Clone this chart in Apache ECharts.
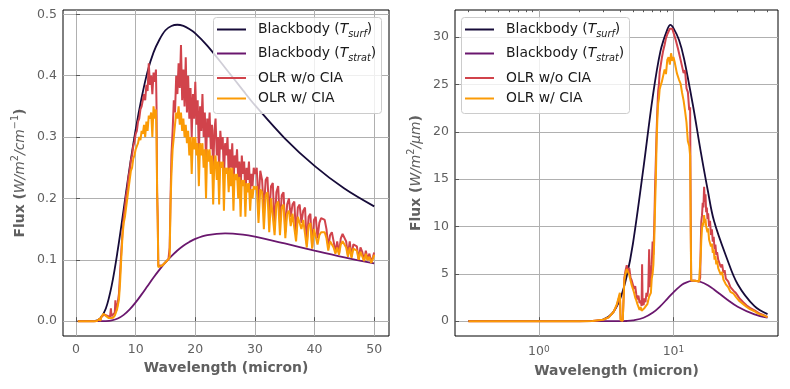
<!DOCTYPE html>
<html><head><meta charset="utf-8">
<script src="https://cdn.jsdelivr.net/npm/echarts@6/dist/echarts.min.js"></script>
<style>html,body{margin:0;padding:0;background:#fff}#c{width:790px;height:389px}</style>
</head><body><div id="c"></div>
<script>
// ---------- Left panel (flux per wavenumber) ----------
const bbWaveL = [0.3,1,2,3,4,5,6,7,8,9,10,11,12,13,14,15,16,17,18,19,20,22,25,28,30,35,40,45,50];
const bbSurfL = [0,0,0,0.0002,0.0036,0.0205,0.059,0.116,0.183,0.251,0.312,0.364,0.407,0.438,0.459,0.474,0.481,0.483,0.481,0.476,0.469,0.449,0.413,0.376,0.352,0.298,0.253,0.216,0.187];
const bbStratL = [0,0,0,0,0,0.0002,0.0013,0.0043,0.0102,0.0191,0.0305,0.0436,0.0574,0.0711,0.084,0.0958,0.106,0.1152,0.123,0.129,0.134,0.140,0.143,0.141,0.1377,0.1266,0.115,0.104,0.094];

const olrWaveL = [
0.3,2,3,3.5,3.8,4.0,4.05,4.25,4.3,4.45,
4.6,4.8,5.0,5.2,5.5,5.7,5.85,5.95,6.2,6.5,
6.6,6.7,6.9,7.0,7.2,7.4,7.6,7.8,8.0,8.2,
8.4,8.6,8.8,9.0,9.2,9.4,9.6,9.8,10.0,10.2,
10.4,10.6,10.8,11.0,11.2,11.4,11.6,11.8,12.0,12.2,
12.4,12.6,12.8,13.0,13.2,13.4,13.5,13.6,13.7,13.8,
14.5,15.0,15.5,15.7,15.85,
16.0,16.2,16.4,16.6,16.8,17.0,17.2,17.4,17.6,17.8,
18.0,18.2,18.4,18.6,18.8,19.0,19.2,19.4,19.6,19.8,
20.0,20.2,20.4,20.6,20.8,21.0,21.2,21.4,21.6,21.8,
22.0,22.2,22.4,22.6,22.8,23.0,23.2,23.4,23.6,23.8,
24.0,24.2,24.4,24.6,24.8,25.0,25.2,25.4,25.6,25.8,
26.0,26.2,26.4,26.6,26.8,27.0,27.2,27.4,27.6,27.8,
28.0,28.2,28.4,28.6,28.8,29.0,29.2,29.4,29.6,29.8,
30.0,30.3,30.6,30.9,31.2,31.5,31.8,32.1,32.4,32.7,
33.0,33.3,33.6,33.9,34.2,34.5,34.8,35.1,35.4,35.7,
36.0,36.3,36.6,36.9,37.2,37.5,37.8,38.1,38.4,38.7,
39.0,39.3,39.6,39.9,40.2,40.5,40.8,41.1,41.4,41.7,
42.0,42.3,42.6,42.9,43.2,43.5,43.8,44.1,44.4,44.7,
45.0,45.3,45.6,45.9,46.2,46.5,46.8,47.1,47.4,47.7,
48.0,48.3,48.6,48.9,49.2,49.5,49.8,50.0];
const olrNoCiaL = [
0,0,0,.0002,.001,.0045,.0003,.0002,.008,.011,
.011,.0105,.011,.009,.008,.007,.021,.008,.0095,.014,
.034,.016,.024,.03,.045,.08,.115,.145,.17,.185,
.205,.215,.235,.245,.262,.27,.285,.292,.305,.31,
.325,.33,.345,.35,.36,.37,.36,.385,.375,.42,
.385,.40,.37,.405,.39,.41,.35,.21,.17,.09,
.091,.096,.101,.12,.20,
.27,.31,.36,.34,.40,.37,.42,.38,.45,.36,
.41,.35,.43,.34,.40,.33,.38,.30,.37,.33,
.39,.32,.36,.27,.35,.31,.37,.30,.34,.26,
.33,.30,.34,.28,.32,.24,.31,.33,.27,.30,
.25,.31,.28,.30,.23,.29,.27,.30,.24,.28,
.25,.29,.22,.27,.25,.28,.23,.26,.21,.27,
.24,.26,.20,.25,.23,.26,.21,.24,.22,.25,
.24,.25,.19,.245,.23,.18,.23,.235,.17,.22,
.225,.15,.21,.22,.16,.205,.21,.145,.19,.20,
.17,.19,.195,.14,.185,.19,.16,.18,.185,.125,
.17,.175,.12,.165,.17,.135,.16,.168,.17,.165,
.15,.12,.14,.145,.13,.112,.13,.11,.135,.142,
.14,.13,.108,.13,.105,.125,.128,.122,.10,.12,
.113,.098,.115,.10,.11,.096,.105,.112];
const olrCiaL = [
0,0,0,.0002,.001,.0045,.0002,.0002,.008,.010,
.012,.0095,.0085,.007,.005,.0045,.005,.0045,.0055,.009,
.011,.011,.02,.022,.035,.065,.105,.14,.16,.17,
.185,.20,.215,.23,.245,.25,.265,.27,.28,.285,
.29,.30,.295,.31,.305,.32,.30,.325,.31,.335,
.33,.34,.30,.35,.33,.345,.30,.21,.16,.088,
.091,.096,.101,.105,.19,
.24,.28,.30,.32,.34,.33,.35,.32,.34,.31,
.33,.30,.32,.29,.31,.27,.30,.24,.30,.28,
.30,.27,.29,.22,.29,.27,.29,.25,.28,.20,
.28,.26,.28,.24,.27,.19,.26,.27,.23,.26,
.19,.26,.25,.26,.18,.25,.24,.25,.21,.25,
.22,.25,.18,.24,.23,.24,.20,.235,.17,.23,
.22,.23,.17,.225,.21,.225,.18,.215,.20,.22,
.215,.22,.16,.215,.21,.15,.205,.21,.145,.20,
.20,.14,.19,.195,.14,.185,.19,.135,.175,.18,
.155,.175,.175,.13,.17,.17,.15,.165,.165,.12,
.155,.16,.118,.15,.15,.125,.14,.145,.147,.145,
.135,.115,.13,.13,.12,.11,.12,.108,.125,.13,
.13,.12,.105,.12,.103,.118,.12,.115,.10,.113,
.11,.098,.11,.099,.105,.095,.102,.108];

// ---------- Right panel (flux per micron, log wavelength) ----------
const bbWaveR = [0.3,1,2,2.5,3,3.5,4,4.5,5,6,7,8,9,9.5,10,11,12,14,16,18,20,25,30,40,50];
const bbSurfR = [0,0,0,0.018,0.175,0.80,2.27,4.77,8.18,16.3,23.6,28.5,30.8,31.3,30.95,29.7,27.7,22.7,17.8,13.8,10.6,6.6,3.9,1.58,0.745];
const bbStratR = [0,0,0,0,0,0,0.004,0.02,0.085,0.36,0.88,1.59,2.36,2.72,3.05,3.60,3.99,4.29,4.14,3.80,3.35,2.29,1.53,0.71,0.364];

const olrWaveR = [
0.3,1,2,2.5,3,3.3,3.6,3.8,4.0,4.05,
4.2,4.28,4.32,4.4,4.5,4.6,4.7,4.8,4.9,5.0,
5.1,5.2,5.3,5.4,5.5,5.6,5.7,5.8,5.85,5.9,
6.0,6.1,6.2,6.3,6.4,6.5,6.6,6.7,6.8,6.9,
7.0,7.1,7.2,7.3,7.4,7.5,7.6,7.7,7.8,7.9,
8.0,8.2,8.4,8.6,8.8,9.0,9.2,9.4,9.6,9.8,
10.0,10.2,10.4,10.6,10.8,11.0,11.3,11.6,11.9,12.2,
12.5,12.8,13.1,13.3,13.45,13.55,14.0,14.5,15.0,15.5,
15.8,15.95,16.1,16.3,16.5,16.7,16.9,17.1,17.3,17.5,
17.7,17.9,18.1,18.4,18.7,19.0,19.3,19.6,19.9,20.2,
20.5,20.8,21.1,21.5,22.0,22.5,23.0,23.5,24.0,24.5,
25.0,25.5,26.0,26.5,27.0,28.0,29.0,30.0,31.0,32.0,
33.0,34.0,35.0,36.0,37.0,38.0,40.0,42.0,44.0,46.0,
48.0,50.0];
const olrNoCiaR = [
0,0,0,.01,.15,.4,1.0,1.7,2.8,.2,
.05,.1,4.6,5.3,5.9,5.3,5.6,4.6,4.3,4.5,
3.4,3.7,2.8,2.3,2.7,1.9,2.2,1.6,6.0,2.0,
1.7,2.4,2.0,3.0,2.6,3.4,7.6,3.6,4.8,6.0,
8.4,7.0,10.0,14,17,20,22.5,24.3,25,26.3,
26.8,27.8,28.6,29.2,29.9,30.3,30.6,30.9,31.0,30.9,
30.5,30.7,29.7,29.9,28.8,29.0,27.6,27.8,26.2,26.5,
24.6,24.2,22.3,22.6,10.0,4.3,4.28,4.27,4.24,4.2,
4.6,8.0,10.5,11.2,12.5,12.0,14.2,12.6,13.4,11.5,
12.0,10.8,11.4,10.0,10.6,9.1,9.7,8.4,8.9,7.6,
8.1,7.0,7.3,6.5,6.6,5.7,6.0,5.1,5.4,4.5,
4.7,4.2,4.2,3.6,3.8,3.2,3.0,2.7,2.4,2.3,
2.0,1.85,1.65,1.55,1.4,1.3,1.15,.95,.78,.68,
.55,.45];
const olrCiaR = [
0,0,0,.01,.15,.4,1.0,1.8,3.0,.1,
.05,.1,4.4,5.0,5.5,5.7,4.9,4.3,3.8,3.4,
3.0,2.5,2.2,1.8,1.6,1.2,1.5,1.1,1.3,1.2,
1.0,1.4,1.2,1.6,1.8,2.2,2.6,2.5,3.0,4.5,
5.0,6.0,8.5,12,15,19,21.5,23,23.5,24.5,
24.8,25.3,25.5,26.6,26.1,27.6,27.9,27.1,28.3,27.5,
27.9,27.4,27.2,26.2,26.4,25.5,25.1,24.1,23.3,22.2,
21.0,19.0,18.5,17.5,9.0,4.3,4.28,4.27,4.24,4.2,
4.3,7.0,8.5,9.8,10.4,10.1,11.2,10.4,10.8,10.0,
10.2,9.4,9.8,8.6,8.8,7.9,8.2,7.2,7.6,6.5,
6.9,6.0,6.4,5.6,5.8,4.9,5.2,4.4,4.6,3.9,
4.1,3.6,3.7,3.1,3.3,2.9,2.6,2.4,2.1,2.05,
1.8,1.7,1.5,1.42,1.28,1.2,1.05,.85,.72,.64,
.53,.43];

// ---------- Ticks / labels ----------
const xTicksL = [0,10,20,30,40,50];
const yTicksL = [0,0.1,0.2,0.3,0.4,0.5];
const xTicksR = [1,10];
const xMinorR = [0.3,0.4,0.5,0.6,0.7,0.8,0.9,2,3,4,5,6,7,8,9,20,30,40,50,60];
const yTicksR = [0,5,10,15,20,25,30];
const names = ['Blackbody (T_surf)','Blackbody (T_strat)','OLR w/o CIA','OLR w/ CIA'];
const colors = ['#160b39','#6a176e','#d1434b','#fb9b06'];

const zip = (a,b) => a.map((v,i)=>[v,b[i]]);
const FONT = 'DejaVu Sans';
const GRAY = '#606060';
const LF = 13.9;

const legendRich = {
  n:{fontSize:LF,fontFamily:FONT,color:'#1a1a1a',lineHeight:20},
  i:{fontSize:LF,fontFamily:FONT,fontStyle:'italic',color:'#1a1a1a',lineHeight:20},
  s:{fontSize:9.7,fontFamily:FONT,fontStyle:'italic',color:'#1a1a1a',lineHeight:9,verticalAlign:'bottom'},
  g:{width:7}
};
const legendText = {
  'Blackbody (T_surf)':'{g| }{n|Blackbody (}{i|T}{s|surf}{n|)}',
  'Blackbody (T_strat)':'{g| }{n|Blackbody (}{i|T}{s|strat}{n|)}',
  'OLR w/o CIA':'{g| }{n|OLR w/o CIA}',
  'OLR w/ CIA':'{g| }{n|OLR w/ CIA}'
};
const rowY = [32.5, 56.5, 81, 101.5];
function mkLegends(x){
  return names.map((nm,k)=>({
    left:x, top:rowY[k]-10, padding:0, itemWidth:29, itemHeight:2, icon:'rect',
    selectedMode:false, data:[nm], z:10,
    formatter:(n)=>legendText[n],
    textStyle:{rich:legendRich, fontSize:LF, fontFamily:FONT}
  }));
}

const nameRich = {
  b:{fontSize:LF,fontFamily:FONT,fontWeight:'bold',color:GRAY,lineHeight:20},
  i:{fontSize:LF,fontFamily:FONT,fontStyle:'italic',color:GRAY,lineHeight:20},
  sup:{fontSize:9.7,fontFamily:FONT,color:GRAY,lineHeight:9,verticalAlign:'top'}
};

function lineSeries(name, xi, yi, data, color, w){
  return {name, type:'line', xAxisIndex:xi, yAxisIndex:yi, data, showSymbol:false, symbol:'none',
    smooth:false, lineStyle:{color, width:w}, itemStyle:{color}, animation:false};
}
function bbSeries(name, xi, yi, data, color){
  const s = lineSeries(name, xi, yi, data, color, 1.8);
  s.smooth = 0.35; return s;
}

const axisCommon = {
  axisLine:{show:false},
  axisTick:{show:true, inside:true, length:4, lineStyle:{color:'#555', width:1}},
  splitLine:{show:true, lineStyle:{color:'#b0b0b0', width:1}},
};

const option = {
  animation:false,
  backgroundColor:'#fff',
  grid:[
    {left:63, top:10, width:326, height:326, show:true, borderColor:'#000', borderWidth:1, backgroundColor:'rgba(0,0,0,0)'},
    {left:455, top:10, width:323, height:326, show:true, borderColor:'#000', borderWidth:1, backgroundColor:'rgba(0,0,0,0)'}
  ],
  xAxis:[
    Object.assign({}, axisCommon, {
      type:'value', gridIndex:0, min:-2.185, max:52.485,
      axisTick:Object.assign({}, axisCommon.axisTick, {customValues:xTicksL}),
      axisLabel:{customValues:xTicksL, color:GRAY, fontSize:12.5, fontFamily:FONT, margin:7},
      name:'Wavelength (micron)', nameLocation:'middle', nameGap:22,
      nameTextStyle:{fontWeight:'bold', fontSize:LF, fontFamily:FONT, color:GRAY}
    }),
    Object.assign({}, axisCommon, {
      type:'log', logBase:10, gridIndex:1, min:0.2384, max:59.8,
      axisTick:Object.assign({}, axisCommon.axisTick, {customValues:xTicksR}),
      axisLabel:{customValues:xTicksR, color:GRAY, fontSize:12.5, fontFamily:FONT, margin:9,
        formatter:(v)=> '10{s|' + Math.round(Math.log10(v)) + '}',
        rich:{s:{fontSize:9, fontFamily:FONT, color:GRAY, lineHeight:8, verticalAlign:'top'}}},
      name:'Wavelength (micron)', nameLocation:'middle', nameGap:28,
      nameTextStyle:{fontWeight:'bold', fontSize:LF, fontFamily:FONT, color:GRAY}
    }),
    {
      type:'log', logBase:10, gridIndex:1, min:0.2384, max:59.8,
      axisLine:{show:false}, splitLine:{show:false}, axisLabel:{show:false},
      axisTick:{show:true, inside:true, length:2.2, customValues:xMinorR, lineStyle:{color:'#555', width:1}}
    }
  ],
  yAxis:[
    Object.assign({}, axisCommon, {
      type:'value', gridIndex:0, min:-0.0242, max:0.507,
      axisTick:Object.assign({}, axisCommon.axisTick, {customValues:yTicksL}),
      axisLabel:{customValues:yTicksL, color:GRAY, fontSize:12.5, fontFamily:FONT, margin:6, formatter:(v)=>v.toFixed(1)},
      name:'{b|Flux (}{i|W/m}{sup|2}{i|/cm}{sup|−1}{b|)}', nameLocation:'middle', nameRotate:90, nameGap:33,
      nameTextStyle:{rich:nameRich, fontSize:LF, fontFamily:FONT, color:GRAY}
    }),
    Object.assign({}, axisCommon, {
      type:'value', gridIndex:1, min:-1.565, max:32.87,
      axisTick:Object.assign({}, axisCommon.axisTick, {customValues:yTicksR}),
      axisLabel:{customValues:yTicksR, color:GRAY, fontSize:12.5, fontFamily:FONT, margin:6},
      name:'{b|Flux (}{i|W/m}{sup|2}{i|/μm}{b|)}', nameLocation:'middle', nameRotate:90, nameGap:29,
      nameTextStyle:{rich:nameRich, fontSize:LF, fontFamily:FONT, color:GRAY}
    })
  ],
  legend:[].concat(mkLegends(217), mkLegends(465)),
  graphic:[
    {type:'rect', z:9, shape:{x:213.5,y:17.5,width:168,height:96,r:3}, style:{fill:'rgba(255,255,255,0.8)', stroke:'#cccccc', lineWidth:1}},
    {type:'rect', z:9, shape:{x:461.5,y:17.5,width:168,height:96,r:3}, style:{fill:'rgba(255,255,255,0.8)', stroke:'#cccccc', lineWidth:1}}
  ],
  series:[
    bbSeries(names[0],0,0,zip(bbWaveL,bbSurfL),colors[0]),
    bbSeries(names[1],0,0,zip(bbWaveL,bbStratL),colors[1]),
    lineSeries(names[2],0,0,zip(olrWaveL,olrNoCiaL),colors[2],2),
    lineSeries(names[3],0,0,zip(olrWaveL,olrCiaL),colors[3],2),
    bbSeries(names[0],1,1,zip(bbWaveR,bbSurfR),colors[0]),
    bbSeries(names[1],1,1,zip(bbWaveR,bbStratR),colors[1]),
    lineSeries(names[2],1,1,zip(olrWaveR,olrNoCiaR),colors[2],2),
    lineSeries(names[3],1,1,zip(olrWaveR,olrCiaR),colors[3],2)
  ]
};
const chart = echarts.init(document.getElementById('c'));
chart.setOption(option);
</script></body></html>
